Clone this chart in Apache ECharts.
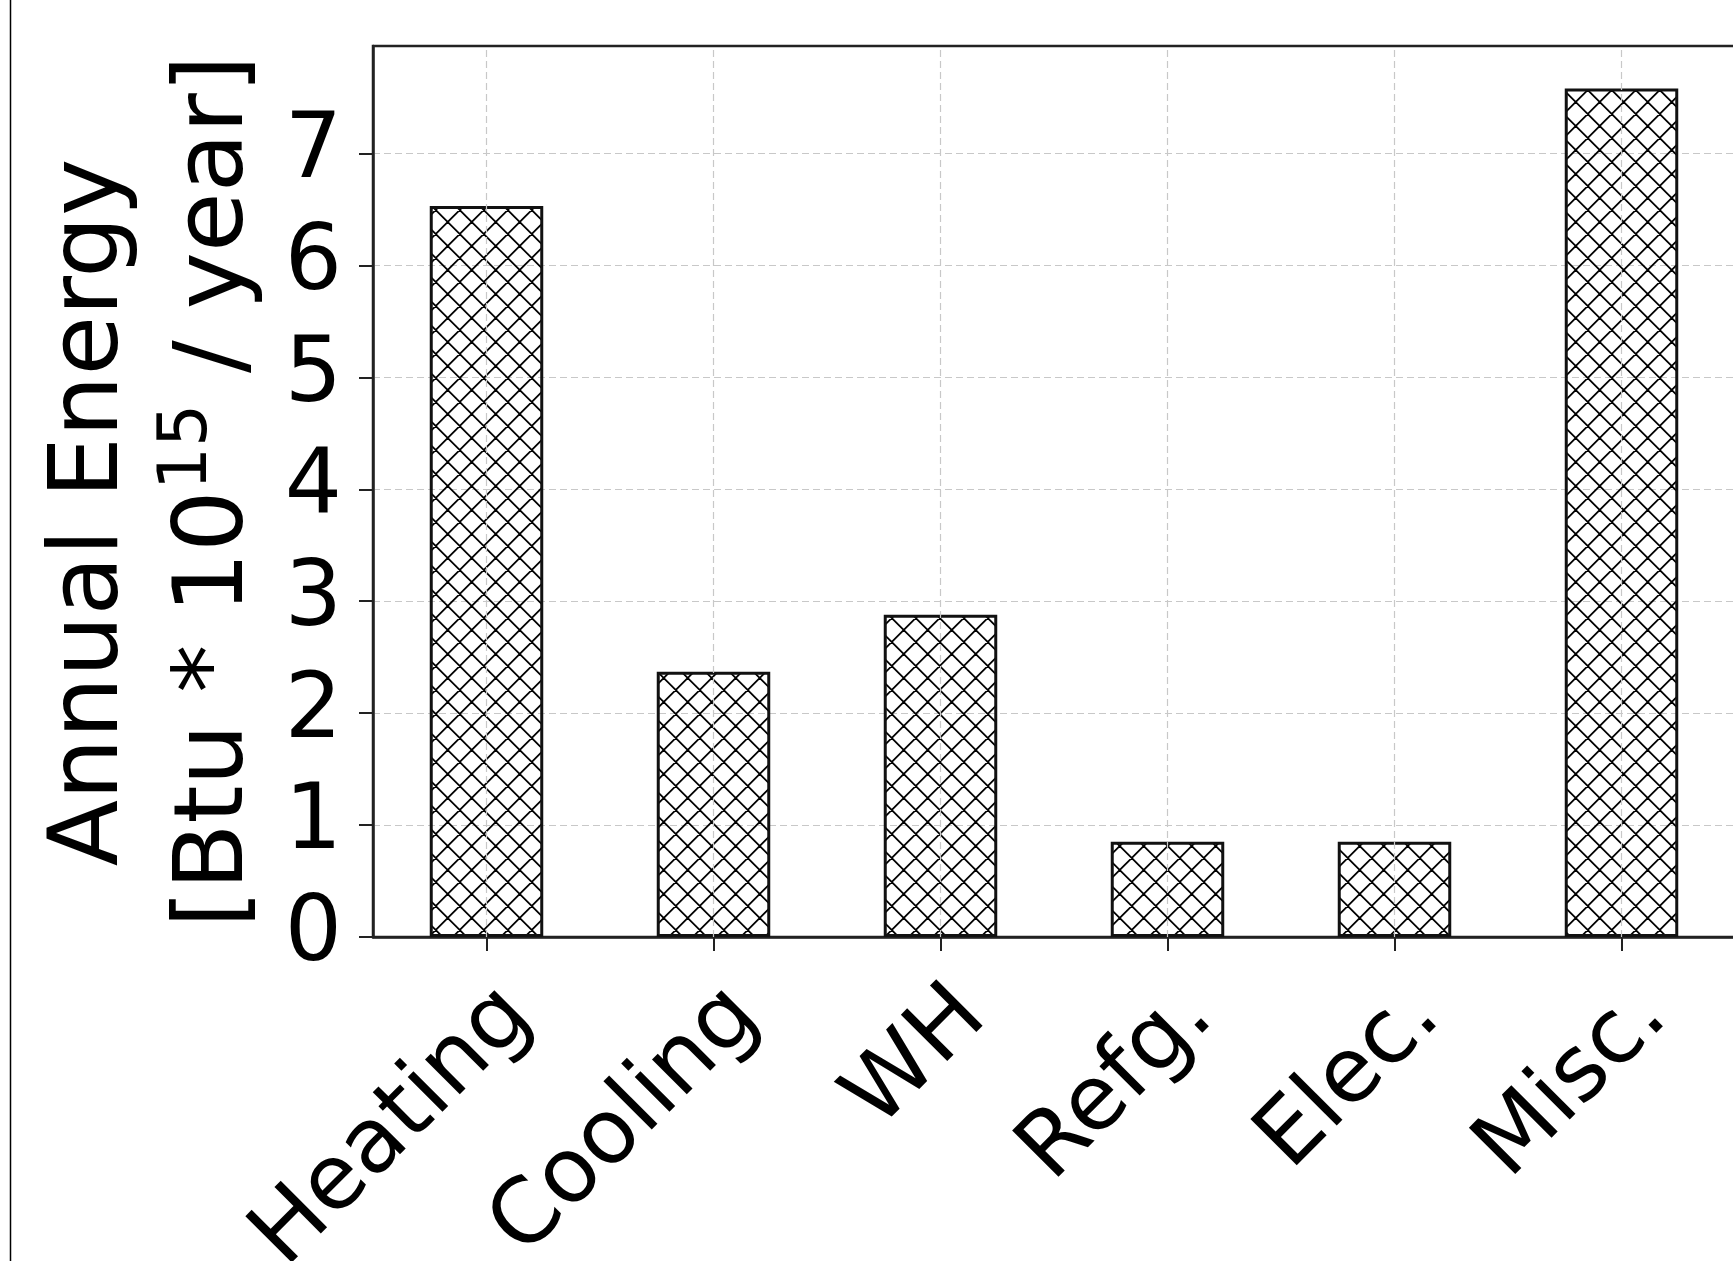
<!DOCTYPE html>
<html>
<head>
<meta charset="utf-8">
<title>Annual Energy</title>
<script src="https://cdn.jsdelivr.net/npm/echarts@6/dist/echarts.min.js"></script>
<style>
  html, body { margin: 0; padding: 0; background: #fff; }
  #chart { width: 1733px; height: 1261px; }
</style>
</head>
<body>
<div id="chart"></div>
<script>
// 数据
const categories = ['Heating', 'Cooling', 'WH', 'Refg.', 'Elec.', 'Misc.'];
const energy = [6.53, 2.37, 2.88, 0.85, 0.85, 7.58];
const yTicks = [0, 1, 2, 3, 4, 5, 6, 7];
const yMax = 7.96;

const FONT = 'DejaVu Sans';
const AXIS_COLOR = '#222';
const GRID_LINE = { color: '#c8c8c8', type: [7, 4], width: 1.2 };

// 交叉斜线填充 (xxx hatch)
function hatchTile() {
  const c = document.createElement('canvas');
  c.width = 24;
  c.height = 24;
  const ctx = c.getContext('2d');
  ctx.strokeStyle = '#000';
  ctx.lineWidth = 1.8;
  ctx.beginPath();
  for (let k = -2; k <= 2; k++) {
    const a = 9.7 + 24 * k;
    ctx.moveTo(a - 6, -6);
    ctx.lineTo(a + 30, 30);
    const b = 21.7 + 24 * k;
    ctx.moveTo(b + 6, -6);
    ctx.lineTo(b - 30, 30);
  }
  ctx.stroke();
  return c;
}

const chart = echarts.init(document.getElementById('chart'), null, { renderer: 'canvas' });

const option = {
  animation: false,
  backgroundColor: '#fff',
  grid: {
    left: 373,
    right: -2,
    top: 46,
    bottom: 324,
    show: true,
    borderColor: AXIS_COLOR,
    borderWidth: 2.5,
    outerBoundsMode: 'none'
  },
  graphic: [{
    type: 'line',
    shape: { x1: 10.5, y1: 0, x2: 10.5, y2: 1261 },
    style: { stroke: '#000', lineWidth: 1.5 },
    silent: true
  }],
  xAxis: {
    type: 'category',
    data: categories,
    axisLine: { show: true, lineStyle: { color: AXIS_COLOR, width: 2.5 } },
    axisTick: { show: true, alignWithLabel: true, length: 14, lineStyle: { color: AXIS_COLOR, width: 2 } },
    axisLabel: {
      interval: 0,
      rotate: 45,
      align: 'right',
      verticalAlign: 'top',
      margin: 34,
      fontSize: 90,
      fontFamily: FONT,
      color: '#000'
    },
    splitLine: { show: false }
  },
  yAxis: {
    type: 'value',
    min: 0,
    max: yMax,
    interval: 1,
    axisLine: { show: true, lineStyle: { color: AXIS_COLOR, width: 2.5 } },
    axisTick: { show: true, length: 14, customValues: yTicks, lineStyle: { color: AXIS_COLOR, width: 2 } },
    axisLabel: { customValues: yTicks, fontSize: 90, fontFamily: FONT, color: '#000', margin: 31 },
    splitLine: { show: true, lineStyle: GRID_LINE },
    name: '{l1|Annual Energy}\n[Btu * 10{sup|15} / year]',
    nameLocation: 'middle',
    nameRotate: 90,
    nameGap: 94,
    nameMoveOverlap: false,
    nameTextStyle: {
      fontSize: 97,
      fontFamily: FONT,
      color: '#000',
      lineHeight: 125,
      rich: {
        l1: { fontSize: 97, fontFamily: FONT, color: '#000', lineHeight: 125, padding: [0, 42, 0, 0] },
        sup: { fontSize: 68, fontFamily: FONT, color: '#000', verticalAlign: 'top' }
      }
    }
  },
  series: [{
    type: 'bar',
    data: energy,
    barWidth: '50%',
    itemStyle: {
      color: { image: hatchTile(), repeat: 'repeat' },
      borderColor: '#111',
      borderWidth: 3
    },
    emphasis: { disabled: true },
    markLine: {
      silent: true,
      symbol: ['none', 'none'],
      label: { show: false },
      lineStyle: GRID_LINE,
      data: categories.map(c => ({ xAxis: c }))
    }
  }]
};

chart.setOption(option, true);
window.addEventListener('resize', () => chart.resize());
</script>
</body>
</html>
